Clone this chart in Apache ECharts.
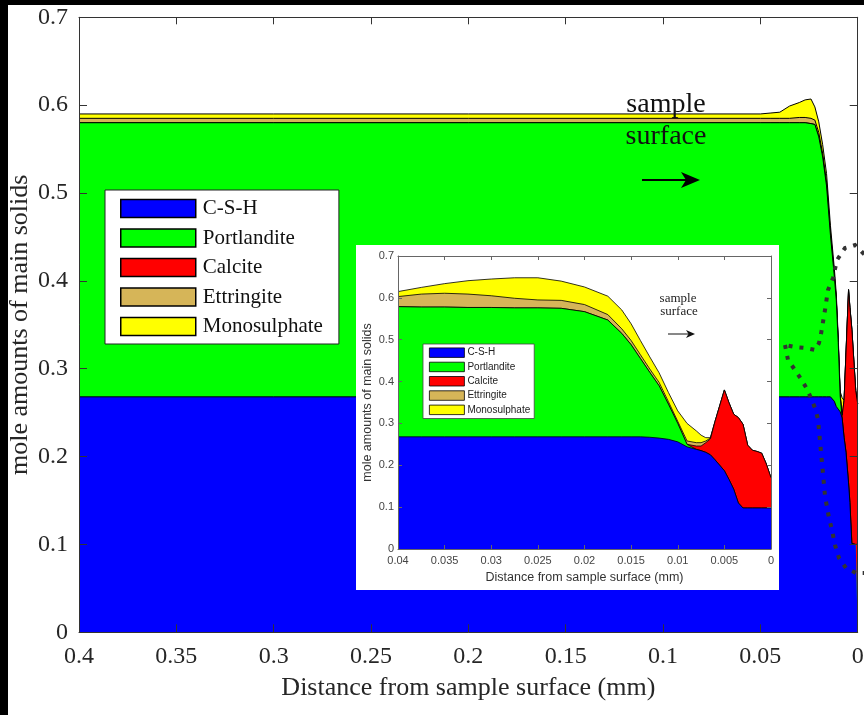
<!DOCTYPE html>
<html><head><meta charset="utf-8">
<script src="https://cdn.jsdelivr.net/npm/echarts/dist/echarts.min.js"></script>
<style>html,body{margin:0;padding:0;background:#fff}#c{width:864px;height:715px}</style>
</head><body><div id="c"></div>
<script>
// ---------- data ----------
const speciesNames = ['C-S-H', 'Portlandite', 'Calcite', 'Ettringite', 'Monosulphate'];
const speciesColors = ['#0000FF', '#00FF00', '#FF0000', '#D6B558', '#FFFF00'];

// main chart (distance in mm, mole amounts per layer)
const mainX    = [0.4, 0.3, 0.2, 0.1, 0.05, 0.045, 0.04, 0.035, 0.03, 0.027, 0.024, 0.022, 0.02, 0.018, 0.016, 0.014, 0.012, 0.011, 0.01, 0.009, 0.008, 0.007, 0.006, 0.0047, 0.004, 0.003, 0.002, 0.001, 0];
const mainCSH  = [0.268, 0.268, 0.268, 0.268, 0.268, 0.268, 0.268, 0.268, 0.268, 0.268, 0.268, 0.268, 0.268, 0.268, 0.268, 0.268, 0.263, 0.257, 0.254, 0.251, 0.244, 0.222, 0.205, 0.170, 0.148, 0.101, 0.100, 0.100, 0.100];
const mainPort = [0.312, 0.312, 0.312, 0.312, 0.312, 0.312, 0.312, 0.312, 0.312, 0.312, 0.311, 0.310, 0.296, 0.273, 0.240, 0.184, 0.142, 0.121, 0.076, 0.018, 0, 0, 0, 0, 0, 0, 0, 0, 0];
const mainCalc = [0, 0, 0, 0, 0, 0, 0, 0, 0, 0, 0, 0, 0, 0, 0, 0, 0, 0, 0, 0, 0.003, 0.042, 0.114, 0.220, 0.222, 0.244, 0.210, 0.175, 0.160];
const mainEtt  = [0.005, 0.005, 0.005, 0.005, 0.005, 0.005, 0.005, 0.005, 0.006, 0.006, 0.006, 0.005, 0.005, 0.004, 0.004, 0.003, 0.003, 0.002, 0.002, 0.001, 0, 0, 0, 0, 0, 0, 0, 0, 0];
const mainMono = [0.005, 0.005, 0.005, 0.005, 0.005, 0.006, 0.007, 0.014, 0.017, 0.020, 0.022, 0.015, 0.012, 0.010, 0.010, 0.008, 0.006, 0.005, 0.004, 0.004, 0.020, 0, 0, 0, 0, 0, 0, 0, 0];

// inset chart
const insetX    = [0.04, 0.0375, 0.035, 0.0325, 0.03, 0.0275, 0.025, 0.0225, 0.02, 0.0175, 0.016, 0.015, 0.014, 0.013, 0.012, 0.011, 0.01, 0.009, 0.008, 0.0075, 0.007, 0.0065, 0.006, 0.005, 0.0045, 0.004, 0.0035, 0.003, 0.0025, 0.002, 0.0015, 0.001, 0.0005, 0];
const insetCSH  = [0.268, 0.268, 0.268, 0.268, 0.268, 0.268, 0.268, 0.268, 0.268, 0.268, 0.268, 0.268, 0.268, 0.267, 0.265, 0.262, 0.256, 0.244, 0.238, 0.235, 0.231, 0.225, 0.213, 0.187, 0.166, 0.143, 0.110, 0.098, 0.098, 0.098, 0.098, 0.098, 0.098, 0.098];
const insetPort = [0.311, 0.310, 0.310, 0.309, 0.309, 0.308, 0.308, 0.307, 0.299, 0.279, 0.247, 0.220, 0.187, 0.155, 0.125, 0.084, 0.044, 0.006, 0, 0, 0, 0, 0, 0, 0, 0, 0, 0, 0, 0, 0, 0, 0, 0];
const insetCalc = [0, 0, 0, 0, 0, 0, 0, 0, 0, 0, 0, 0, 0, 0, 0, 0, 0, 0, 0.008, 0.011, 0.023, 0.038, 0.092, 0.193, 0.183, 0.179, 0.204, 0.200, 0.150, 0.138, 0.135, 0.131, 0.105, 0.072];
const insetEtt  = [0.024, 0.031, 0.033, 0.032, 0.028, 0.023, 0.019, 0.019, 0.017, 0.013, 0.011, 0.010, 0.009, 0.008, 0.008, 0.006, 0.005, 0.008, 0.008, 0.008, 0.004, 0.002, 0, 0, 0, 0, 0, 0, 0, 0, 0, 0, 0, 0];
const insetMono = [0.012, 0.016, 0.023, 0.032, 0.040, 0.049, 0.053, 0.046, 0.042, 0.044, 0.045, 0.040, 0.034, 0.029, 0.023, 0.022, 0.025, 0.042, 0.028, 0.018, 0.008, 0.001, 0, 0, 0, 0, 0, 0, 0, 0, 0, 0, 0, 0];

// ---------- build ----------
function cumulative(layers) {
  const out = [];
  let acc = layers[0].map(() => 0);
  layers.forEach(l => { acc = acc.map((a, i) => a + l[i]); out.push(acc.slice()); });
  return out;
}
function buildSeries(xs, layers, xi, yi, lw, zBase) {
  const cum = cumulative(layers);
  const s = [];
  for (let k = cum.length - 1; k >= 0; k--) {
    s.push({
      type: 'line', name: speciesNames[k], xAxisIndex: xi, yAxisIndex: yi,
      data: xs.map((x, i) => [x, +cum[k][i].toFixed(4)]),
      symbol: 'none', smooth: false, silent: true,
      lineStyle: { color: '#000', width: lw },
      itemStyle: { color: speciesColors[k] },
      areaStyle: { color: speciesColors[k], opacity: 1, origin: 'start' },
      z: zBase + (cum.length - 1 - k)
    });
  }
  return s;
}

const serif = 'Liberation Serif';
const sans = 'Liberation Sans';

function axisBase(o) {
  return Object.assign({
    type: 'value', splitLine: { show: false }, nameMoveOverlap: false,
    axisLine: { show: true, onZero: false, lineStyle: { color: '#333', width: 1 } },
    axisTick: { show: true, inside: true, length: 8, lineStyle: { color: '#333', width: 1 } }
  }, o);
}

const mainLabel = { fontFamily: serif, fontSize: 24, color: '#262626' };
const insetLabel = { fontFamily: sans, fontSize: 11, color: '#444' };
const insetLine = { show: true, onZero: false, lineStyle: { color: '#666', width: 1 } };
const insetTick = { show: true, inside: true, length: 4, lineStyle: { color: '#666', width: 1 } };

const legendData = (bw) => speciesNames.map((n, i) => ({
  name: n, icon: 'rect', itemStyle: { color: speciesColors[i], borderColor: '#000', borderWidth: bw }
}));

const dotsUpper = [[872, 262], [862, 252], [855, 245], [845, 248], [837, 260], [833, 278], [828, 290], [825, 310], [823, 322], [821, 334], [819, 343], [815, 350], [806, 348], [795, 347], [785, 345]];
const dotsLower = [[785, 345], [788, 360], [795, 370], [801, 379], [807, 389], [811, 398], [815, 408], [818, 419], [819, 430], [820, 441], [821, 452], [822, 463], [823, 474], [824, 485], [825, 496], [827, 507], [829, 518], [832, 530], [835, 545], [839, 558], [846, 568], [856, 573], [866, 573]];

const option = {
  animation: false,
  backgroundColor: '#fff',
  grid: [
    { left: 79, top: 17.3, width: 778.7, height: 615, outerBoundsMode: 'none' },
    { left: 398, top: 256, width: 373, height: 293, outerBoundsMode: 'none' }
  ],
  xAxis: [
    axisBase({ gridIndex: 0, inverse: true, min: 0, max: 0.4, interval: 0.05, position: 'bottom', z: 7,
      axisLabel: Object.assign({ margin: 12 }, mainLabel),
      name: 'Distance from sample surface (mm)', nameLocation: 'middle', nameGap: 43,
      nameTextStyle: { fontFamily: serif, fontSize: 26, color: '#262626' } }),
    axisBase({ gridIndex: 0, inverse: true, min: 0, max: 0.4, interval: 0.05, position: 'top', z: 7,
      axisTick: { show: true, inside: true, length: 7, lineStyle: { color: '#333' } }, axisLabel: { show: false } }),
    axisBase({ gridIndex: 1, inverse: true, min: 0, max: 0.04, interval: 0.005, position: 'bottom', z: 16,
      axisLine: insetLine, axisTick: insetTick,
      axisLabel: Object.assign({ margin: 6 }, insetLabel),
      name: 'Distance from sample surface (mm)', nameLocation: 'middle', nameGap: 22,
      nameTextStyle: { fontFamily: sans, fontSize: 12.5, color: '#333' } }),
    axisBase({ gridIndex: 1, inverse: true, min: 0, max: 0.04, interval: 0.005, position: 'top', z: 16,
      axisLine: insetLine, axisTick: insetTick, axisLabel: { show: false } })
  ],
  yAxis: [
    axisBase({ gridIndex: 0, min: 0, max: 0.7, interval: 0.1, position: 'left', z: 7,
      axisLabel: Object.assign({ margin: 11 }, mainLabel),
      name: 'mole amounts of main solids', nameLocation: 'middle', nameGap: 46,
      nameTextStyle: { fontFamily: serif, fontSize: 26, color: '#262626' } }),
    axisBase({ gridIndex: 0, min: 0, max: 0.7, interval: 0.1, position: 'right', z: 7, axisLabel: { show: false } }),
    axisBase({ gridIndex: 1, min: 0, max: 0.7, interval: 0.1, position: 'left', z: 16,
      axisLine: insetLine, axisTick: insetTick,
      axisLabel: Object.assign({ margin: 4 }, insetLabel),
      name: 'mole amounts of main solids', nameLocation: 'middle', nameGap: 24,
      nameTextStyle: { fontFamily: sans, fontSize: 12.5, color: '#333' } }),
    axisBase({ gridIndex: 1, min: 0, max: 0.7, interval: 0.1, position: 'right', z: 16,
      axisLine: insetLine, axisTick: insetTick, axisLabel: { show: false } })
  ],
  legend: [
    { orient: 'vertical', left: 105, top: 190, itemWidth: 75, itemHeight: 18, itemGap: 8.5,
      padding: [8, 16, 7, 15], backgroundColor: '#fff', borderColor: '#222', borderWidth: 1,
      textStyle: { fontFamily: serif, fontSize: 21, color: '#111', padding: [0, 0, 0, 2] },
      selectedMode: false, z: 8, data: legendData(1.5) },
    { orient: 'vertical', left: 423, top: 344, itemWidth: 35, itemHeight: 9.5, itemGap: 4,
      padding: [3.5, 4, 3.5, 6], backgroundColor: '#fff', borderColor: '#444', borderWidth: 0.8,
      textStyle: { fontFamily: sans, fontSize: 10, color: '#222', padding: [0, 0, 0, -2] },
      selectedMode: false, z: 17, data: legendData(0.8) }
  ],
  graphic: [
    { type: 'rect', silent: true, z: 10, shape: { x: 356, y: 245, width: 423, height: 345 }, style: { fill: '#fff' } },
    { type: 'text', silent: true, z: 8, x: 666, y: 105, style: { text: 'sample', font: '28px "Liberation Serif"', fill: '#111', align: 'center', verticalAlign: 'middle' } },
    { type: 'text', silent: true, z: 8, x: 666, y: 137, style: { text: 'surface', font: '28px "Liberation Serif"', fill: '#111', align: 'center', verticalAlign: 'middle' } },
    { type: 'line', silent: true, z: 8, shape: { x1: 642, y1: 180, x2: 688, y2: 180 }, style: { stroke: '#000', lineWidth: 2 } },
    { type: 'polygon', silent: true, z: 8, shape: { points: [[700, 180], [681, 172], [686, 180], [681, 188]] }, style: { fill: '#000' } },
    { type: 'text', silent: true, z: 17, x: 678, y: 298.5, style: { text: 'sample', font: '13px "Liberation Serif"', fill: '#222', align: 'center', verticalAlign: 'middle' } },
    { type: 'text', silent: true, z: 17, x: 679, y: 312, style: { text: 'surface', font: '13px "Liberation Serif"', fill: '#222', align: 'center', verticalAlign: 'middle' } },
    { type: 'line', silent: true, z: 17, shape: { x1: 668, y1: 334, x2: 690, y2: 334 }, style: { stroke: '#111', lineWidth: 1 } },
    { type: 'polygon', silent: true, z: 17, shape: { points: [[695, 334], [686, 330], [688.5, 334], [686, 338]] }, style: { fill: '#111' } },
    { type: 'polyline', silent: true, z: 18, shape: { points: dotsUpper }, style: { stroke: '#333', lineWidth: 4, lineDash: [4, 7], fill: null } },
    { type: 'polyline', silent: true, z: 18, shape: { points: dotsLower }, style: { stroke: '#333', lineWidth: 4, lineDash: [4, 7], fill: null } },
    { type: 'rect', silent: true, z: 20, shape: { x: 0, y: 0, width: 864, height: 5 }, style: { fill: '#000' } },
    { type: 'rect', silent: true, z: 20, shape: { x: 0, y: 0, width: 8, height: 715 }, style: { fill: '#000' } }
  ],
  series: [].concat(
    buildSeries(mainX, [mainCSH, mainPort, mainCalc, mainEtt, mainMono], 0, 0, 1, 2),
    buildSeries(insetX, [insetCSH, insetPort, insetCalc, insetEtt, insetMono], 2, 2, 0.8, 11)
  )
};

const chart = echarts.init(document.getElementById('c'), null, { renderer: 'canvas' });
chart.setOption(option);
</script>
</body></html>
